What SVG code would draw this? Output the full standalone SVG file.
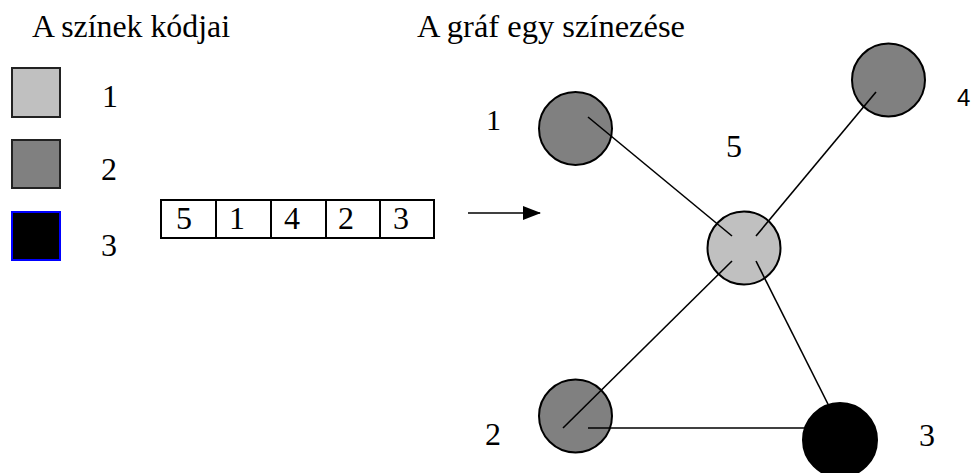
<svg xmlns="http://www.w3.org/2000/svg" width="978" height="473" viewBox="0 0 978 473">
<defs>
<style>
.sq{stroke:#222;stroke-width:2}
.node{stroke:#000;stroke-width:2}
.edge{stroke:#000;stroke-width:1.6;fill:none}
.cell{fill:#fff;stroke:#000;stroke-width:2}
</style>
<marker id="arr" markerWidth="18" markerHeight="14" refX="17" refY="7" orient="auto" markerUnits="userSpaceOnUse" viewBox="0 0 18 14">
<path d="M0,0 L18,7 L0,14 z" fill="#000"/>
</marker>
</defs>
<rect width="978" height="473" fill="#fff"/>
<g font-family="'Liberation Serif', 'Times New Roman', Times, serif" font-size="32" fill="#000">
<g id="titles">
<text x="32" y="37" textLength="198" lengthAdjust="spacingAndGlyphs">A színek kódjai</text>
<text x="417" y="37" textLength="268" lengthAdjust="spacingAndGlyphs">A gráf egy színezése</text>
</g>
<g id="legend">
<g id="legend-1"><rect class="sq" x="12" y="68" width="48" height="49" fill="#c0c0c0"/><text x="102" y="107">1</text></g>
<g id="legend-2"><rect class="sq" x="12" y="140" width="48" height="48" fill="#808080"/><text x="101" y="180">2</text></g>
<g id="legend-3"><rect x="12" y="212" width="48" height="48" fill="#000" stroke="#0000ff" stroke-width="2"/><text x="101" y="256">3</text></g>
</g>
<g id="array">
<rect class="cell" x="161" y="200" width="273" height="38"/>
<line x1="216" y1="200" x2="216" y2="238" stroke="#000" stroke-width="2"/>
<line x1="271" y1="200" x2="271" y2="238" stroke="#000" stroke-width="2"/>
<line x1="326" y1="200" x2="326" y2="238" stroke="#000" stroke-width="2"/>
<line x1="380" y1="200" x2="380" y2="238" stroke="#000" stroke-width="2"/>
<text x="176" y="229">5</text>
<text x="229" y="229">1</text>
<text x="284" y="229">4</text>
<text x="338" y="229">2</text>
<text x="393" y="229">3</text>
</g>
<g id="nodes">
<g id="node-1"><circle class="node" cx="575.5" cy="128.5" r="36.5" fill="#808080"/><text x="486" y="130" font-size="30">1</text></g>
<g id="node-5"><circle class="node" cx="744" cy="248" r="36.5" fill="#c0c0c0"/><text x="726" y="157">5</text></g>
<g id="node-4"><circle class="node" cx="888.5" cy="80" r="36.5" fill="#808080"/><text x="957" y="106" font-family="'Liberation Sans', Arial, sans-serif" font-size="24">4</text></g>
<g id="node-2"><circle class="node" cx="575.5" cy="416" r="36.5" fill="#808080"/><text x="485" y="445">2</text></g>
<g id="node-3"><circle class="node" cx="840" cy="440" r="37" fill="#000"/><text x="919" y="446">3</text></g>
</g>
</g>
<g id="connectors">
<line class="edge" x1="468" y1="213" x2="540" y2="213" stroke-width="2" marker-end="url(#arr)"/>
<line class="edge" x1="588" y1="117" x2="732" y2="236"/>
<line class="edge" x1="876" y1="92" x2="756" y2="236"/>
<line class="edge" x1="732" y1="261" x2="563" y2="428"/>
<line class="edge" x1="756" y1="261" x2="836" y2="420"/>
<line class="edge" x1="588" y1="428" x2="820" y2="428"/>
</g>
</svg>
